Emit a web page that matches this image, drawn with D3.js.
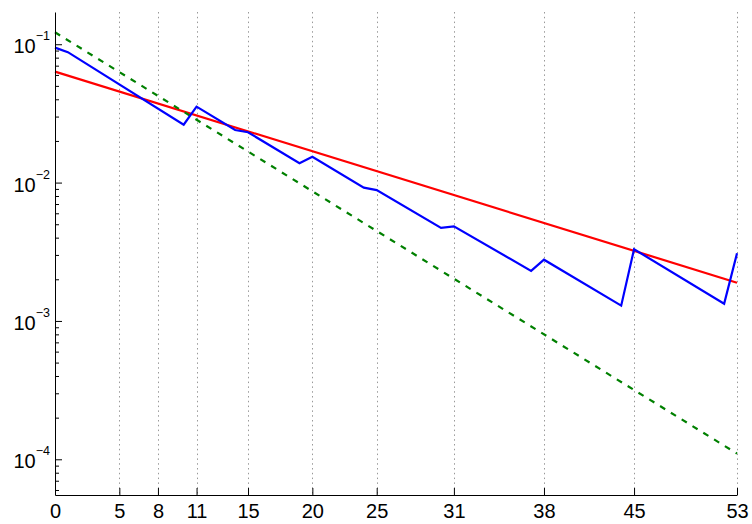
<!DOCTYPE html>
<html>
<head>
<meta charset="utf-8">
<script src="https://cdn.jsdelivr.net/npm/d3@7"></script>
<style>
  body { margin: 0; background: #fff; }
  svg text { font-family: "Liberation Sans", Arial, Helvetica, sans-serif; fill: #000; }
</style>
</head>
<body>
<svg id="chart" width="752" height="524"></svg>
<script>
// x ticks shown on the axis (also where the dotted grid lines go)
var xTicks = [0, 5, 8, 11, 15, 20, 25, 31, 38, 45, 53]
var yDecades = [-4, -3, -2, -1]

// blue sawtooth series
var blueX = [0, 1, 10, 11, 14, 15, 19, 20, 24, 25, 30, 31, 37, 38, 44, 45, 52, 53]
var blueY = [0.0945, 0.0876, 0.0262, 0.0354, 0.0240, 0.0231, 0.0138, 0.01538, 0.00919, 0.00883,
  0.00470, 0.00483, 0.00230, 0.00277, 0.00129, 0.00330, 0.00133, 0.00308]

// red straight line (end points)
var redX = [0, 53]
var redY = [0.0634, 0.00189]

// green dashed line (end points)
var greenX = [0, 53]
var greenY = [0.122, 0.000110]

var svg = d3.select("#chart")
var plotLeft = 55, plotRight = 737, plotTop = 12, plotBottom = 495

var xScale = d3.scaleLinear().domain([0, 53]).range([plotLeft, plotRight])
var yScale = d3.scaleLog().domain([5.52e-5, 0.171]).range([plotBottom, plotTop])

// dotted vertical grid
svg.append("g")
  .selectAll("line")
  .data(xTicks.filter(function(d) { return d != 0 }))
  .enter().append("line")
  .attr("x1", function(d) { return Math.round(xScale(d)) + 0.5 })
  .attr("x2", function(d) { return Math.round(xScale(d)) + 0.5 })
  .attr("y1", plotTop)
  .attr("y2", plotBottom)
  .attr("stroke", "#999")
  .attr("stroke-width", 1)
  .attr("stroke-dasharray", "1.5,3.3")

function series(xs, ys) {
  return xs.map(function(x, i) { return [x, ys[i]] })
}

var line = d3.line()
  .x(function(d) { return xScale(d[0]) })
  .y(function(d) { return yScale(d[1]) })

svg.append("path")
  .datum(series(redX, redY))
  .attr("d", line)
  .attr("fill", "none")
  .attr("stroke", "#ff0000")
  .attr("stroke-width", 2.2)

svg.append("path")
  .datum(series(greenX, greenY))
  .attr("d", line)
  .attr("fill", "none")
  .attr("stroke", "#008000")
  .attr("stroke-width", 2.2)
  .attr("stroke-dasharray", "6,6.7")

svg.append("path")
  .datum(series(blueX, blueY))
  .attr("d", line)
  .attr("fill", "none")
  .attr("stroke", "#0000ff")
  .attr("stroke-width", 2.2)

// x axis, ticks pointing inward
var xAxis = d3.axisBottom(xScale)
  .tickValues(xTicks)
  .tickSize(-7)
  .tickSizeOuter(0)
  .tickPadding(0)
  .tickFormat(d3.format("d"))

var gx = svg.append("g")
  .attr("transform", "translate(0," + plotBottom + ")")
  .call(xAxis)
gx.select(".domain").attr("stroke", "#000")
gx.selectAll(".tick line").attr("stroke", "#000")
gx.selectAll(".tick text")
  .attr("dy", null)
  .attr("y", 23)
  .style("font-size", "20px")

// y axis (log), minor ticks inward
var minorTicks = []
var yMin = yScale.domain()[0], yMax = yScale.domain()[1]
;[-5].concat(yDecades).forEach(function(p) {
  for (var m = 1; m < 10; m++) {
    var v = m * Math.pow(10, p)
    if (v >= yMin && v <= yMax) minorTicks.push(v)
  }
})

var yAxis = d3.axisLeft(yScale)
  .tickValues(minorTicks)
  .tickSize(-4)
  .tickSizeOuter(0)
  .tickFormat("")

var gy = svg.append("g")
  .attr("transform", "translate(" + plotLeft + ",0)")
  .call(yAxis)
gy.select(".domain").attr("stroke", "#000")
gy.selectAll(".tick line")
  .attr("stroke", "#000")
  .attr("x2", function(d) { return Math.abs(Math.log10(d) - Math.round(Math.log10(d))) < 1e-9 ? 7 : 4 })

// decade labels 10^k
var labels = svg.append("g")
  .selectAll("text")
  .data(yDecades)
  .enter().append("text")
  .attr("x", plotLeft - 5)
  .attr("y", function(d) { return yScale(Math.pow(10, d)) + 9 })
  .attr("text-anchor", "end")
  .style("font-size", "20px")

labels.append("tspan").text("10")
labels.append("tspan")
  .attr("dy", -13)
  .style("font-size", "12.5px")
  .text(function(d) { return "\u2212" + (-d) })
</script>
</body>
</html>
